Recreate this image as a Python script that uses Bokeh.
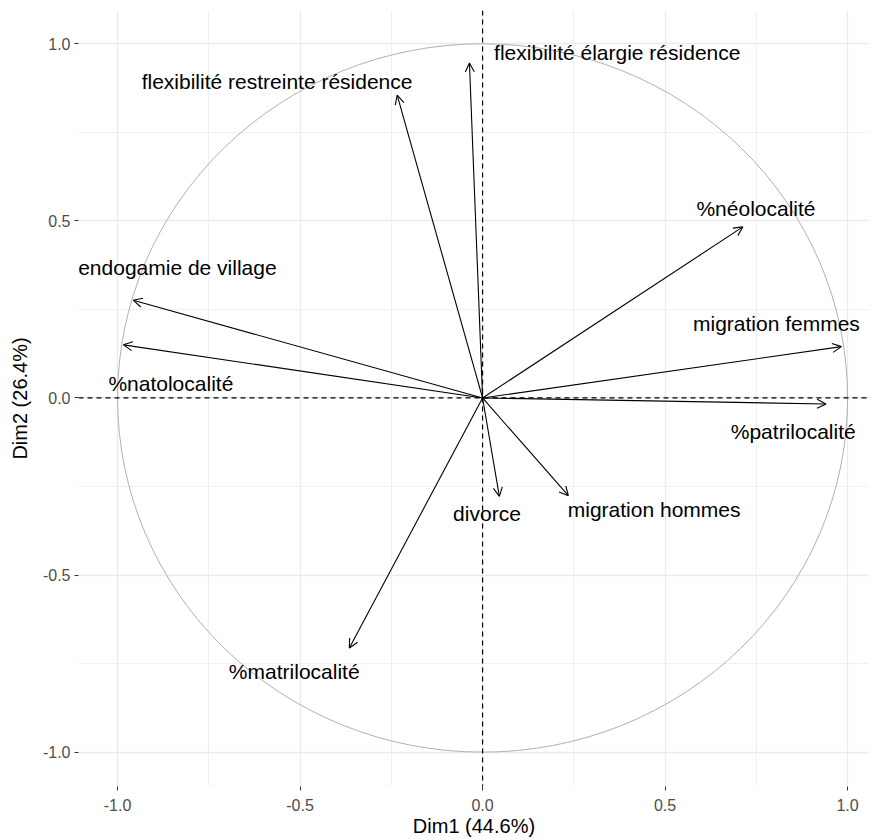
from bokeh.plotting import figure
from bokeh.models import ColumnDataSource, Arrow, OpenHead, Span, FixedTicker
from bokeh.core.properties import value
from bokeh.embed import file_html
from bokeh.resources import INLINE

# Variable coordinates (correlations with Dim1, Dim2)
variables = ["flexibilité élargie résidence", "flexibilité restreinte résidence",
             "%néolocalité", "endogamie de village", "%natolocalité",
             "migration femmes", "%patrilocalité", "divorce",
             "migration hommes", "%matrilocalité"]
dim1 = [-0.036, -0.234, 0.713, -0.957, -0.984, 0.983, 0.941, 0.046, 0.235, -0.365]
dim2 = [0.946, 0.855, 0.483, 0.276, 0.150, 0.145, -0.017, -0.278, -0.276, -0.706]
# label positions (repelled)
label_x = [0.369, -0.563, 0.749, -0.836, -0.854, 0.805, 0.851, 0.012, 0.470, -0.516]
label_y = [0.976, 0.894, 0.536, 0.367, 0.042, 0.211, -0.096, -0.325, -0.316, -0.771]

ticks = [-1.0, -0.5, 0.0, 0.5, 1.0]
minor = [-0.75, -0.25, 0.25, 0.75]
xlab = "Dim1 (44.6%)"
ylab = "Dim2 (26.4%)"

FONT = "Liberation Sans"

p = figure(width=869, height=839, output_backend="svg", toolbar_location=None,
           x_range=(-1.107, 1.06), y_range=(-1.097, 1.094),
           min_border_left=78, min_border_right=0, min_border_top=10, min_border_bottom=44)
p.outline_line_color = None
p.background_fill_color = "white"

for ax in (p.xaxis[0], p.yaxis[0]):
    ax.ticker = FixedTicker(ticks=ticks, minor_ticks=minor)
    ax.axis_line_color = None
    ax.major_tick_line_color = "#333333"
    ax.major_tick_in = 0
    ax.major_tick_out = 4
    ax.minor_tick_line_color = None
    ax.major_label_text_font = FONT
    ax.major_label_text_font_size = "16px"
    ax.major_label_text_color = "#4D4D4D"
    ax.axis_label_text_font = FONT
    ax.axis_label_text_font_size = "20px"
    ax.axis_label_text_font_style = "normal"
    ax.axis_label_text_color = "black"
p.xaxis[0].major_label_overrides = {t: f"{t:.1f}" for t in ticks}
p.yaxis[0].major_label_overrides = {t: f"{t:.1f}" for t in ticks}
p.xaxis.axis_label = xlab
p.yaxis.axis_label = ylab
p.xaxis.axis_label_standoff = 1
p.yaxis.axis_label_standoff = 9
p.xaxis.major_label_standoff = 8
p.yaxis.major_label_standoff = 4

for g in (p.xgrid[0], p.ygrid[0]):
    g.ticker = FixedTicker(ticks=ticks, minor_ticks=minor)
    g.grid_line_color = "#EBEBEB"
    g.grid_line_width = 1.3
    g.minor_grid_line_color = "#F0F0F0"
    g.minor_grid_line_width = 1

# correlation circle
p.ellipse(x=0, y=0, width=2, height=2, fill_color=None, line_color="#B0B0B0", line_width=1)

# dashed reference lines
p.add_layout(Span(location=0, dimension="width", line_color="black", line_dash="5 4", line_width=1.2))
p.add_layout(Span(location=0, dimension="height", line_color="black", line_dash="5 4", line_width=1.2))

src = ColumnDataSource(dict(x0=[0.0] * len(dim1), y0=[0.0] * len(dim1), x1=dim1, y1=dim2))
p.add_layout(Arrow(source=src, x_start="x0", y_start="y0", x_end="x1", y_end="y1",
                   line_color="black", line_width=1.1,
                   end=OpenHead(size=9, line_color="black", line_width=1.1)))

lsrc = ColumnDataSource(dict(x=label_x, y=label_y, t=variables))
p.text(x="x", y="y", text="t", source=lsrc, text_align="center", text_baseline="middle",
       text_font=value(FONT), text_font_size="21px", text_color="black")

open("out.html", "w").write(file_html(p, INLINE))
